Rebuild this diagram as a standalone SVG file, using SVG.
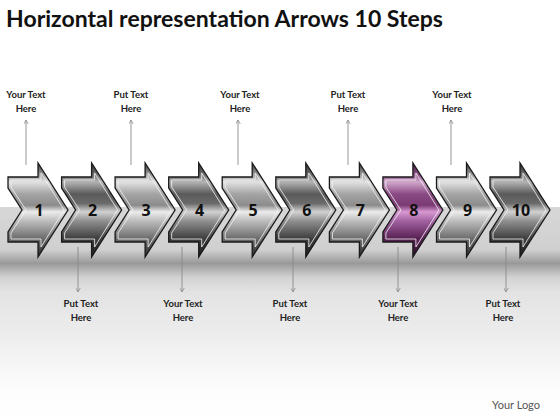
<svg xmlns="http://www.w3.org/2000/svg" xmlns:xlink="http://www.w3.org/1999/xlink" width="560" height="420" viewBox="0 0 560 420">
<style>
.title{font-family:Lato,"Liberation Sans",sans-serif;font-weight:bold;font-size:22px;fill:#111}
.lbl{font-family:Lato,"Liberation Sans",sans-serif;font-weight:bold;font-size:9.5px;fill:#222;text-anchor:middle}
.num{font-family:"Open Sans","Liberation Sans",sans-serif;font-weight:bold;font-size:16px;fill:#111;text-anchor:middle}
.logo{font-family:Lato,"Liberation Sans",sans-serif;font-size:11px;fill:#555;text-anchor:end}
.out{stroke:#1a1a1a;stroke-width:1.3;stroke-linejoin:miter}
.bev{fill:none;stroke:#f4f4f4;stroke-width:1;opacity:0.8}
.con{stroke:#8a8a8a;stroke-width:0.9;fill:none;marker-end:url(#ah)}
</style>
<defs>
<linearGradient id="bg" gradientUnits="userSpaceOnUse" x1="0" y1="207" x2="0" y2="420">
<stop offset="0" stop-color="#d7d7d7"/>
<stop offset="0.2" stop-color="#d0d0d0"/>
<stop offset="0.265" stop-color="#999999"/>
<stop offset="0.33" stop-color="#d2d2d2"/>
<stop offset="0.4" stop-color="#e3e3e3"/>
<stop offset="0.62" stop-color="#eeeeee"/>
<stop offset="0.86" stop-color="#fdfdfd"/>
<stop offset="1" stop-color="#ffffff"/>
</linearGradient>
<linearGradient id="gL" x1="0" y1="0" x2="0" y2="1">
<stop offset="0" stop-color="#3a3a3a"/>
<stop offset="0.14" stop-color="#a8a8a8"/>
<stop offset="0.2" stop-color="#e2e2e2"/>
<stop offset="0.33" stop-color="#a4a4a4"/>
<stop offset="0.45" stop-color="#8c8c8c"/>
<stop offset="0.52" stop-color="#ececec"/>
<stop offset="0.6" stop-color="#c4c4c4"/>
<stop offset="0.8" stop-color="#6e6e6e"/>
<stop offset="1" stop-color="#2a2a2a"/>
</linearGradient>
<linearGradient id="gD" x1="0" y1="0" x2="0" y2="1">
<stop offset="0" stop-color="#2a2a2a"/>
<stop offset="0.14" stop-color="#7a7a7a"/>
<stop offset="0.2" stop-color="#b4b4b4"/>
<stop offset="0.33" stop-color="#5a5a5a"/>
<stop offset="0.43" stop-color="#6a6a6a"/>
<stop offset="0.52" stop-color="#d2d2d2"/>
<stop offset="0.62" stop-color="#8e8e8e"/>
<stop offset="0.8" stop-color="#404040"/>
<stop offset="1" stop-color="#1c1c1c"/>
</linearGradient>
<linearGradient id="gP" x1="0" y1="0" x2="0" y2="1">
<stop offset="0" stop-color="#3a1436"/>
<stop offset="0.14" stop-color="#9a5a94"/>
<stop offset="0.2" stop-color="#d2a8cc"/>
<stop offset="0.33" stop-color="#8a4a84"/>
<stop offset="0.45" stop-color="#7a3a74"/>
<stop offset="0.52" stop-color="#d898d2"/>
<stop offset="0.62" stop-color="#a060a0"/>
<stop offset="0.8" stop-color="#5a2254"/>
<stop offset="1" stop-color="#2e0c2a"/>
</linearGradient>
<path id="arr" d="M0,0 L30,0 L30,-14 L60,33 L30,80 L30,65 L0,65 L0,55 L14,33 L0,11 Z"/>
<path id="bv" d="M3,3 L33,3 L33,-4 L56,33 L33,70 L33,62 L3,62 L3,56 L18,33 L3,10 Z"/>
<marker id="ah" viewBox="0 0 8 8" refX="7" refY="4" markerWidth="5" markerHeight="5" orient="auto" markerUnits="userSpaceOnUse">
<path d="M0,0 L7,4 L0,8" fill="none" stroke="#8a8a8a" stroke-width="1.2"/>
</marker>
</defs>
<rect x="0" y="0" width="560" height="420" fill="#ffffff"/>
<rect x="0" y="207" width="560" height="213" fill="url(#bg)"/>
<text class="title" x="6" y="27" textLength="437" lengthAdjust="spacingAndGlyphs">Horizontal representation Arrows 10 Steps</text>

<g id="connectors">
<line class="con" x1="26" y1="165" x2="26" y2="120"/>
<line class="con" x1="131" y1="165" x2="131" y2="120"/>
<line class="con" x1="238" y1="165" x2="238" y2="120"/>
<line class="con" x1="348" y1="165" x2="348" y2="120"/>
<line class="con" x1="451" y1="165" x2="451" y2="120"/>
<line class="con" x1="78" y1="247" x2="78" y2="292"/>
<line class="con" x1="182" y1="247" x2="182" y2="292"/>
<line class="con" x1="293" y1="247" x2="293" y2="292"/>
<line class="con" x1="398" y1="247" x2="398" y2="292"/>
<line class="con" x1="506" y1="247" x2="506" y2="292"/>
</g>

<g id="step1" transform="translate(8,177)"><use xlink:href="#arr" fill="url(#gL)" class="out"/><use xlink:href="#bv" class="bev"/><text class="num" x="31" y="39">1</text></g>
<g id="step2" transform="translate(61.6,177)"><use xlink:href="#arr" fill="url(#gD)" class="out"/><use xlink:href="#bv" class="bev"/><text class="num" x="31" y="39">2</text></g>
<g id="step3" transform="translate(115.1,177)"><use xlink:href="#arr" fill="url(#gL)" class="out"/><use xlink:href="#bv" class="bev"/><text class="num" x="31" y="39">3</text></g>
<g id="step4" transform="translate(168.7,177)"><use xlink:href="#arr" fill="url(#gD)" class="out"/><use xlink:href="#bv" class="bev"/><text class="num" x="31" y="39">4</text></g>
<g id="step5" transform="translate(222.2,177)"><use xlink:href="#arr" fill="url(#gL)" class="out"/><use xlink:href="#bv" class="bev"/><text class="num" x="31" y="39">5</text></g>
<g id="step6" transform="translate(275.8,177)"><use xlink:href="#arr" fill="url(#gD)" class="out"/><use xlink:href="#bv" class="bev"/><text class="num" x="31" y="39">6</text></g>
<g id="step7" transform="translate(329.4,177)"><use xlink:href="#arr" fill="url(#gL)" class="out"/><use xlink:href="#bv" class="bev"/><text class="num" x="31" y="39">7</text></g>
<g id="step8" transform="translate(382.9,177)"><use xlink:href="#arr" fill="url(#gP)" class="out"/><use xlink:href="#bv" class="bev"/><text class="num" x="31" y="39">8</text></g>
<g id="step9" transform="translate(436.5,177)"><use xlink:href="#arr" fill="url(#gL)" class="out"/><use xlink:href="#bv" class="bev"/><text class="num" x="31" y="39">9</text></g>
<g id="step10" transform="translate(490,177)"><use xlink:href="#arr" fill="url(#gD)" class="out"/><use xlink:href="#bv" class="bev"/><text class="num" x="31" y="39">10</text></g>

<g id="labels-top">
<text class="lbl" x="26" y="98">Your Text<tspan x="26" y="112">Here</tspan></text>
<text class="lbl" x="131" y="98">Put Text<tspan x="131" y="112">Here</tspan></text>
<text class="lbl" x="240" y="98">Your Text<tspan x="240" y="112">Here</tspan></text>
<text class="lbl" x="348" y="98">Put Text<tspan x="348" y="112">Here</tspan></text>
<text class="lbl" x="452" y="98">Your Text<tspan x="452" y="112">Here</tspan></text>
</g>
<g id="labels-bottom">
<text class="lbl" x="81" y="307">Put Text<tspan x="81" y="321">Here</tspan></text>
<text class="lbl" x="183" y="307">Your Text<tspan x="183" y="321">Here</tspan></text>
<text class="lbl" x="290" y="307">Put Text<tspan x="290" y="321">Here</tspan></text>
<text class="lbl" x="398" y="307">Your Text<tspan x="398" y="321">Here</tspan></text>
<text class="lbl" x="503" y="307">Put Text<tspan x="503" y="321">Here</tspan></text>
</g>
<text class="logo" x="540" y="409">Your Logo</text>
</svg>
